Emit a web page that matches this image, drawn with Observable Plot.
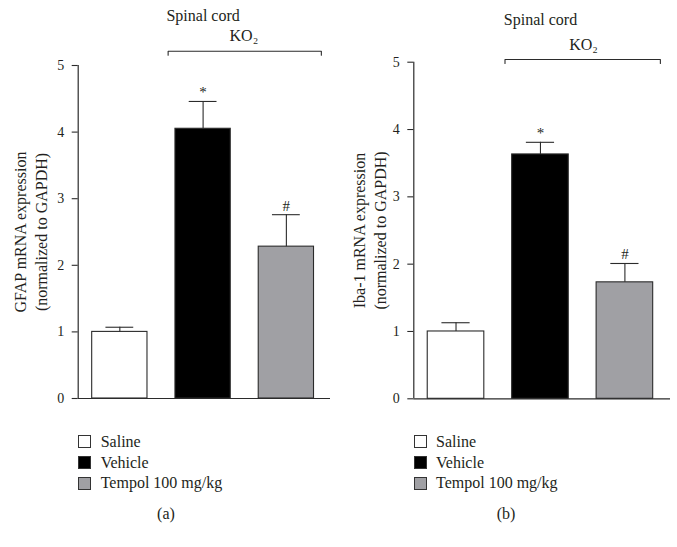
<!DOCTYPE html>
<html>
<head>
<meta charset="utf-8">
<script src="https://cdn.jsdelivr.net/npm/d3@7"></script>
<script src="https://cdn.jsdelivr.net/npm/@observablehq/plot@0.6"></script>
<style>
  html, body { margin: 0; padding: 0; background: #fff; }
  #wrap { position: relative; width: 677px; height: 547px; overflow: hidden; font-family: "Liberation Serif", "Times New Roman", serif; color: #231f20; }
  .panel { position: absolute; top: 0; }
  .lg-sw { position: absolute; width: 11px; height: 11px; border: 1px solid #333; }
  .lg-tx { position: absolute; font-size: 16px; line-height: 20px; height: 20px; white-space: nowrap; }
  .cap { position: absolute; font-size: 16px; line-height: 20px; width: 40px; text-align: center; }
</style>
</head>
<body>
<div id="wrap"></div>
<script>
// ---- data ----
const categories = ["Saline", "Vehicle", "Tempol 100 mg/kg"];
const fills = ["#ffffff", "#000000", "#a0a0a4"];
const yTicks = [0, 1, 2, 3, 4, 5];
const gfapMean = [1.0, 4.05, 2.28];
const gfapErr = [0.07, 0.41, 0.48];
const iba1Mean = [1.0, 3.63, 1.73];
const iba1Err = [0.13, 0.18, 0.28];
const sigMarks = ["", "*", "#"];
const panelTitle = "Spinal cord";
const groupLabel = "KO\u2082";
const gfapLabel = "GFAP mRNA expression\n(normalized to GAPDH)";
const iba1Label = "Iba-1 mRNA expression\n(normalized to GAPDH)";
const panelLetters = ["(a)", "(b)"];

const ink = "#2b2b2b";

function panel(cfg) {
  const rows = categories.map((c, i) => ({cat: c, i, mean: cfg.mean[i], err: cfg.err[i], sig: sigMarks[i]}));
  const bx1 = categories.indexOf("Vehicle") - 0.42;
  const bx2 = categories.indexOf("Tempol 100 mg/kg") + 0.42;
  const bracket = [
    {x: bx1, y: cfg.bracketEnd}, {x: bx1, y: cfg.bracketY},
    {x: bx2, y: cfg.bracketY}, {x: bx2, y: cfg.bracketEnd}
  ];
  const hw = cfg.barHalf;
  return Plot.plot({
    width: cfg.width,
    height: 410,
    marginLeft: cfg.marginLeft,
    marginRight: cfg.marginRight,
    marginTop: cfg.marginTop,
    marginBottom: cfg.marginBottom,
    style: {fontFamily: "'Liberation Serif', 'Times New Roman', serif", fontSize: "14px", color: "#231f20", background: "transparent", overflow: "visible"},
    x: {domain: cfg.xDomain, axis: null},
    y: {domain: [0, 5], axis: null},
    color: {domain: categories, range: fills},
    marks: [
      Plot.axisY({ticks: yTicks, tickSize: 6, tickPadding: 8, label: null, tickFormat: d => String(d), fontSize: 14, stroke: ink, fill: "#231f20", strokeWidth: 1.1}),
      Plot.rectY(rows, {x1: d => d.i - hw, x2: d => d.i + hw, y1: 0, y2: "mean", fill: "cat", stroke: ink, strokeWidth: 1.1}),
      Plot.ruleX(rows, {x: "i", y1: "mean", y2: d => d.mean + d.err, stroke: ink, strokeWidth: 1.1}),
      Plot.ruleY(rows, {y: d => d.mean + d.err, x1: d => d.i - 0.167, x2: d => d.i + 0.167, stroke: ink, strokeWidth: 1.1}),
      Plot.text(rows, {x: "i", y: d => d.mean + d.err, text: "sig", lineAnchor: "bottom", dy: -4, fontSize: 15, fill: "#231f20"}),
      Plot.ruleX([cfg.xDomain[0]], {y1: 0, y2: 5, stroke: ink, strokeWidth: 1.2}),
      Plot.ruleY([0], {stroke: ink, strokeWidth: 1.2}),
      Plot.line(bracket, {x: "x", y: "y", stroke: ink, strokeWidth: 1.1}),
      Plot.text([groupLabel], {x: cfg.koX, y: cfg.koY, text: d => d, lineAnchor: "bottom", fontSize: 16, fill: "#231f20"}),
      Plot.text([panelTitle], {x: 1, y: cfg.titleY, text: d => d, lineAnchor: "bottom", fontSize: 16, fill: "#231f20"}),
      Plot.text([cfg.label], {frameAnchor: "left", text: d => d, rotate: -90, dx: cfg.labelDx, lineAnchor: "middle", textAnchor: "middle", lineHeight: 1.3, fontSize: 16, fill: "#231f20"})
    ]
  });
}

const wrap = document.getElementById("wrap");

const cfgs = [
  {left: 0, width: 338, marginLeft: 77.7, marginRight: 8, marginTop: 65, marginBottom: 12,
   xDomain: [-0.5, 2.53], barHalf: 0.332, mean: gfapMean, err: gfapErr, label: gfapLabel, labelDx: -48,
   bracketY: 5.215, bracketEnd: 5.155, koX: 1.49, koY: 5.365, titleY: 5.665,
   swatchX: 78, textX: 100.7, capX: 166},
  {left: 338, width: 339, marginLeft: 75.3, marginRight: 7, marginTop: 61.7, marginBottom: 11.7,
   xDomain: [-0.5, 2.54], barHalf: 0.335, mean: iba1Mean, err: iba1Err, label: iba1Label, labelDx: -45,
   bracketY: 5.04, bracketEnd: 4.98, koX: 1.51, koY: 5.175, titleY: 5.547,
   swatchX: 414, textX: 436, capX: 506}
];

const rowCenters = [441.7, 462.7, 483.3];

cfgs.forEach((cfg, p) => {
  const svg = panel(cfg);
  svg.classList.add("panel");
  svg.style.left = cfg.left + "px";
  svg.style.position = "absolute";
  wrap.appendChild(svg);

  categories.forEach((c, i) => {
    const sw = document.createElement("div");
    sw.className = "lg-sw";
    sw.style.left = cfg.swatchX + "px";
    sw.style.top = (rowCenters[i] - 6.5) + "px";
    sw.style.background = fills[i];
    wrap.appendChild(sw);
    const tx = document.createElement("div");
    tx.className = "lg-tx";
    tx.style.left = cfg.textX + "px";
    tx.style.top = (rowCenters[i] - 10) + "px";
    tx.textContent = c;
    wrap.appendChild(tx);
  });
  const cap = document.createElement("div");
  cap.className = "cap";
  cap.style.left = (cfg.capX - 20) + "px";
  cap.style.top = (514 - 10) + "px";
  cap.textContent = panelLetters[p];
  wrap.appendChild(cap);
});
</script>
</body>
</html>
